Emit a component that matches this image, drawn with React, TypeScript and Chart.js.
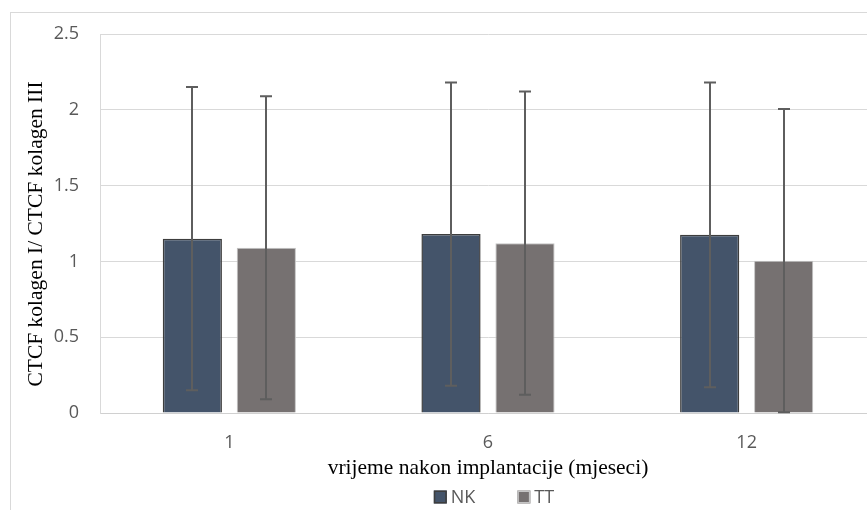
import React, { useEffect, useRef } from "react";
import { Chart, registerables } from "chart.js";

Chart.register(...registerables);

const categories = ["1", "6", "12"];
const seriesNames = ["NK", "TT"];
const nkValues = [1.15, 1.18, 1.175];
const ttValues = [1.09, 1.12, 1.005];
const nkErrors = [1.0, 1.0, 1.005];
const ttErrors = [1.0, 1.0, 1.0];
const yMin = 0;
const yMax = 2.5;
const yStep = 0.5;
const xTitle = "vrijeme nakon implantacije (mjeseci)";
const yTitle = "CTCF kolagen I/ CTCF kolagen III";

const seriesColors = ["#44546A", "#767171"];
const seriesBorders = ["#3d3d3d", "#c4c4c4"];
const errorSets = [nkErrors, ttErrors];

const frameColor = "#d9d9d9";
const textGray = "#595959";
const sansFont = "'Open Sans', 'Liberation Sans', sans-serif";
const serifFont = "'Liberation Serif', 'DejaVu Serif', serif";

const framePlugin = {
  id: "frame",
  beforeDraw(chart: any) {
    const ctx = chart.ctx;
    ctx.save();
    ctx.fillStyle = "#ffffff";
    ctx.fillRect(0, 0, chart.width, chart.height);
    ctx.strokeStyle = frameColor;
    ctx.lineWidth = 1;
    ctx.strokeRect(10.5, 12.5, chart.width + 50, chart.height + 50);
    ctx.restore();
  },
};

const errorBarPlugin = {
  id: "errorBars",
  afterDatasetsDraw(chart: any) {
    const ctx = chart.ctx;
    const yScale = chart.scales.y;
    chart.data.datasets.forEach((ds: any, di: number) => {
      const meta = chart.getDatasetMeta(di);
      meta.data.forEach((bar: any, i: number) => {
        const v = ds.data[i];
        const e = errorSets[di][i];
        const x = Math.round(bar.x);
        const yTop = yScale.getPixelForValue(v + e);
        const yBot = yScale.getPixelForValue(v - e);
        ctx.save();
        ctx.strokeStyle = "#5e5e5e";
        ctx.lineWidth = 2;
        ctx.beginPath();
        ctx.moveTo(x, yTop);
        ctx.lineTo(x, yBot);
        ctx.moveTo(x - 6, yTop);
        ctx.lineTo(x + 6, yTop);
        ctx.moveTo(x - 6, yBot);
        ctx.lineTo(x + 6, yBot);
        ctx.stroke();
        ctx.restore();
      });
    });
  },
};

const labelsPlugin = {
  id: "labelsAndLegend",
  afterDraw(chart: any) {
    const ctx = chart.ctx;
    const area = chart.chartArea;
    const cx = (area.left + area.right) / 2;
    ctx.save();
    // x axis title
    ctx.fillStyle = "#000000";
    ctx.font = `21.5px ${serifFont}`;
    ctx.textAlign = "center";
    ctx.textBaseline = "alphabetic";
    ctx.fillText(xTitle, cx, area.bottom + 61);
    // y axis title
    ctx.save();
    ctx.translate(42, 234);
    ctx.rotate(-Math.PI / 2);
    ctx.fillText(yTitle, 0, 0);
    ctx.restore();
    // legend
    ctx.font = `18px ${sansFont}`;
    ctx.textAlign = "left";
    ctx.textBaseline = "middle";
    const box = 13;
    const gapBoxText = 4;
    const itemGap = 42;
    const widths = seriesNames.map((n) => box + gapBoxText + ctx.measureText(n).width);
    const total = widths.reduce((a, b) => a + b, 0) + itemGap * (seriesNames.length - 1);
    let x = cx + 6 - total / 2;
    const ly = area.bottom + 84;
    seriesNames.forEach((name, i) => {
      ctx.fillStyle = seriesColors[i];
      ctx.fillRect(x, ly - box / 2, box, box);
      ctx.strokeStyle = seriesBorders[i];
      ctx.lineWidth = 1.5;
      ctx.strokeRect(x + 0.75, ly - box / 2 + 0.75, box - 1.5, box - 1.5);
      ctx.fillStyle = textGray;
      ctx.fillText(name, x + box + gapBoxText, ly + 1);
      x += widths[i] + itemGap;
    });
    ctx.restore();
  },
};

function ChartView() {
  const canvasRef = useRef<HTMLCanvasElement | null>(null);

  useEffect(() => {
    const canvas = canvasRef.current;
    if (!canvas) return;
    const chart = new Chart(canvas, {
      type: "bar",
      data: {
        labels: categories,
        datasets: [
          {
            label: seriesNames[0],
            data: nkValues,
            backgroundColor: seriesColors[0],
            borderColor: seriesBorders[0],
            borderWidth: 1.5,
            categoryPercentage: 0.572,
            barPercentage: 0.8,
          },
          {
            label: seriesNames[1],
            data: ttValues,
            backgroundColor: seriesColors[1],
            borderColor: seriesBorders[1],
            borderWidth: 1,
            categoryPercentage: 0.572,
            barPercentage: 0.8,
          },
        ],
      },
      options: {
        animation: false,
        responsive: false,
        devicePixelRatio: 1,
        layout: { padding: { left: 0, top: 34, right: 24, bottom: 0 } },
        plugins: {
          legend: { display: false },
          tooltip: { enabled: false },
        },
        scales: {
          x: {
            grid: { display: false, drawTicks: false },
            border: { display: true, color: "#d0d0d0", width: 1 },
            ticks: {
              color: textGray,
              font: { family: sansFont, size: 18 },
              padding: 19,
            },
            afterFit: (scale: any) => {
              scale.height = 97;
            },
          },
          y: {
            min: yMin,
            max: yMax,
            grid: { color: frameColor, lineWidth: 1, drawTicks: false },
            border: { display: true, color: frameColor, width: 1 },
            ticks: {
              stepSize: yStep,
              color: textGray,
              font: { family: sansFont, size: 18 },
              padding: 21,
              callback: (v: any) => String(v),
            },
            afterFit: (scale: any) => {
              scale.width = 100;
            },
          },
        },
      },
      plugins: [framePlugin, errorBarPlugin, labelsPlugin],
    });
    return () => chart.destroy();
  }, []);

  return <canvas ref={canvasRef} width={900} height={510} style={{ display: "block", width: 900, height: 510 }} />;
}

export default function App() {
  return (
    <div style={{ position: "fixed", left: 0, top: 0, width: 867, height: 510, overflow: "hidden", background: "#fff" }}>
      <ChartView />
    </div>
  );
}
